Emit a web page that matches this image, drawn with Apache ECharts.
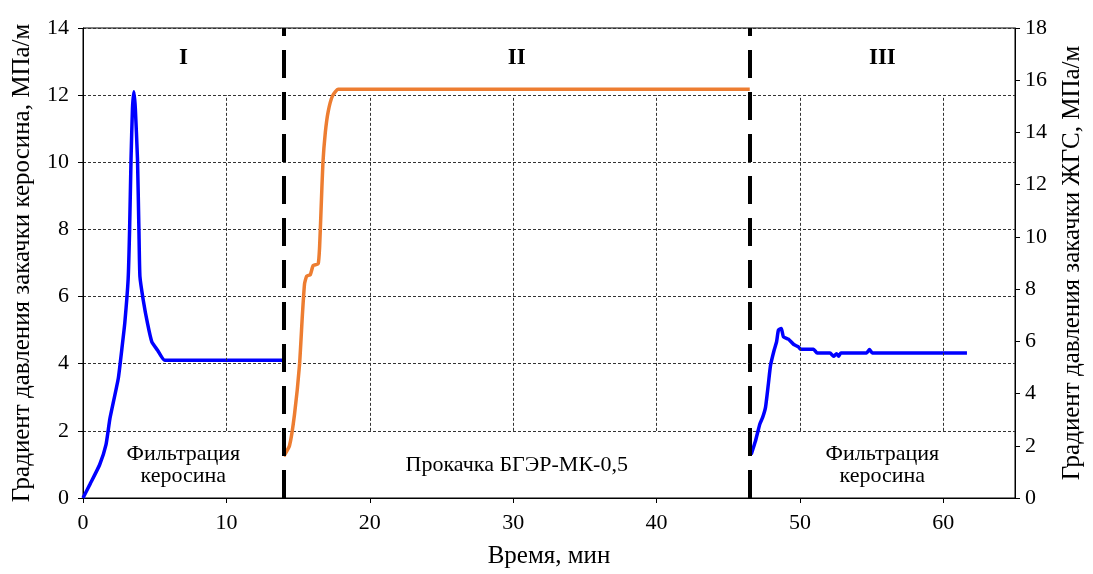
<!DOCTYPE html>
<html>
<head>
<meta charset="utf-8">
<script src="https://cdn.jsdelivr.net/npm/echarts@6/dist/echarts.min.js"></script>
<style>
  html, body { margin: 0; padding: 0; background: #fff; }
  #chart { width: 1093px; height: 574px; }
</style>
</head>
<body>
<div id="chart"></div>
<script>
// Stage I: kerosene filtration (left axis, MPa/m)
const kerosineTime1 = [0, 0.5, 1.16, 1.6, 1.88, 2.46, 2.74, 2.92, 3.15, 3.25, 3.35, 3.45, 3.55, 3.65, 3.8, 3.9, 3.97, 4.2, 4.5, 4.8, 5.2, 5.7, 14.0];
const kerosineGrad1 = [0, 0.42, 0.99, 1.58, 2.37, 3.56, 4.55, 5.24, 6.53, 8.0, 10.1, 11.6, 12.1, 11.6, 10.1, 8.0, 6.6, 5.9, 5.2, 4.65, 4.4, 4.1, 4.1];

// Stage II: pumping of БГЭР-МК-0,5 (right axis, MPa/m)
const jgsTime = [14.0, 14.4, 14.75, 15.1, 15.3, 15.45, 15.6, 15.85, 16.05, 16.4, 16.5, 16.6, 16.73, 16.9, 17.1, 17.4, 17.8, 46.5];
const jgsGrad = [1.6, 2.0, 3.2, 5.1, 7.0, 8.2, 8.5, 8.55, 8.9, 8.97, 9.6, 11.0, 12.8, 14.0, 14.8, 15.4, 15.65, 15.65];

// Stage III: kerosene filtration again (left axis, MPa/m)
const kerosineTime3 = [46.6, 46.9, 47.2, 47.4, 47.6, 47.8, 47.95, 48.2, 48.37, 48.5, 48.7, 48.85, 49.2, 49.55, 49.9, 50.05, 50.95, 51.2, 52.1, 52.35, 52.55, 52.7, 52.85, 54.65, 54.85, 55.05, 61.65];
const kerosineGrad3 = [1.3, 1.7, 2.2, 2.4, 2.7, 3.4, 3.95, 4.4, 4.65, 5.0, 5.05, 4.8, 4.73, 4.58, 4.5, 4.43, 4.43, 4.32, 4.32, 4.22, 4.3, 4.22, 4.32, 4.32, 4.42, 4.32, 4.32];

// Axis ticks
const xTicks = [0, 10, 20, 30, 40, 50, 60];
const leftTicks = [0, 2, 4, 6, 8, 10, 12, 14];
const rightTicks = [0, 2, 4, 6, 8, 10, 12, 14, 16, 18];

// Stage boundaries and captions
const stageBounds = [0, 14, 46.5, 65];
const stageNames = ['I', 'II', 'III'];
const stageCaptions = ['Фильтрация\nкеросина', 'Прокачка БГЭР-МК-0,5', 'Фильтрация\nкеросина'];

const FONT = '"Liberation Serif", "Times New Roman", serif';
const zip = (xs, ys) => xs.map((x, i) => [x, ys[i]]);
const mids = stageNames.map((_, i) => (stageBounds[i] + stageBounds[i + 1]) / 2);

// Vertical dashed grid runs between the 2 and 12 gridlines
const gridLow = 2, gridHigh = 12;
const vGrid = xTicks.filter(v => v > 0).map(v => [{ coord: [v, gridLow] }, { coord: [v, gridHigh] }]);

const chart = echarts.init(document.getElementById('chart'));
chart.setOption({
  animation: false,
  backgroundColor: '#fff',
  textStyle: { fontFamily: FONT },
  grid: { left: 83, right: 77, top: 28, bottom: 74, show: true, borderColor: '#000', borderWidth: 1 },
  xAxis: {
    type: 'value', min: 0, max: 65,
    name: 'Время, мин', nameLocation: 'middle', nameGap: 46,
    nameTextStyle: { fontFamily: FONT, fontSize: 25, color: '#000' },
    axisLine: { show: true, lineStyle: { color: '#000', width: 1 } },
    axisTick: { show: true, length: 5, customValues: xTicks, lineStyle: { color: '#000' } },
    axisLabel: { customValues: xTicks, fontFamily: FONT, fontSize: 22, color: '#000', margin: 14 },
    splitLine: { show: false }
  },
  yAxis: [
    {
      type: 'value', min: 0, max: 14, interval: 2, position: 'left',
      name: 'Градиент давления закачки керосина, МПа/м', nameLocation: 'middle', nameGap: 48,
      nameTextStyle: { fontFamily: FONT, fontSize: 25, color: '#000' },
      axisLine: { show: true, lineStyle: { color: '#000', width: 1 } },
      axisTick: { show: true, length: 5, lineStyle: { color: '#000' } },
      axisLabel: { fontFamily: FONT, fontSize: 22, color: '#000', margin: 14 },
      splitLine: { show: true, lineStyle: { color: '#333', width: 1, type: [3, 2] } }
    },
    {
      type: 'value', min: 0, max: 18, interval: 2, position: 'right',
      name: 'Градиент давления закачки ЖГС, МПа/м', nameLocation: 'middle', nameGap: 45,
      nameRotate: 90,
      nameTextStyle: { fontFamily: FONT, fontSize: 25, color: '#000' },
      axisLine: { show: true, lineStyle: { color: '#000', width: 1 } },
      axisTick: { show: true, length: 5, lineStyle: { color: '#000' } },
      axisLabel: { fontFamily: FONT, fontSize: 22, color: '#000', margin: 10 },
      splitLine: { show: false }
    }
  ],
  series: [
    {
      name: 'Фильтрация керосина I', type: 'line', yAxisIndex: 0,
      data: zip(kerosineTime1, kerosineGrad1),
      showSymbol: false, smooth: 0.15,
      lineStyle: { color: '#0000FF', width: 3.5 },
      markLine: {
        silent: true, symbol: 'none', label: { show: false },
        lineStyle: { color: '#333', width: 1, type: [3, 2] },
        data: vGrid
      },
      z: 3
    },
    {
      name: 'Прокачка БГЭР-МК-0,5', type: 'line', yAxisIndex: 1,
      data: zip(jgsTime, jgsGrad),
      showSymbol: false, smooth: 0.15,
      lineStyle: { color: '#ED7D31', width: 3.5 },
      z: 3
    },
    {
      name: 'Фильтрация керосина III', type: 'line', yAxisIndex: 0,
      data: zip(kerosineTime3, kerosineGrad3),
      showSymbol: false, smooth: 0.15,
      lineStyle: { color: '#0000FF', width: 3.5 },
      markLine: {
        silent: true, symbol: 'none', label: { show: false },
        lineStyle: { color: '#000', width: 4, type: [28, 14], opacity: 1 },
        data: stageBounds.slice(1, 3).map(v => ({ xAxis: v }))
      },
      z: 3
    },
    {
      name: 'stage numbers', type: 'scatter', yAxisIndex: 0, symbolSize: 0, silent: true,
      itemStyle: { opacity: 1 },
      data: stageNames.map((n, i) => ({ name: n, value: [mids[i], 13.1] })),
      label: { show: true, position: 'inside', formatter: '{b}', fontFamily: FONT, fontSize: 23, fontWeight: 'bold', color: '#000', opacity: 1 },
      z: 5
    },
    {
      name: 'stage captions', type: 'scatter', yAxisIndex: 0, symbolSize: 0, silent: true,
      itemStyle: { opacity: 1 },
      data: stageCaptions.map((n, i) => ({ name: n, value: [mids[i], 0.98] })),
      label: { show: true, position: 'inside', formatter: '{b}', fontFamily: FONT, fontSize: 22, lineHeight: 22, color: '#000', opacity: 1 },
      z: 5
    }
  ]
});
</script>
</body>
</html>
